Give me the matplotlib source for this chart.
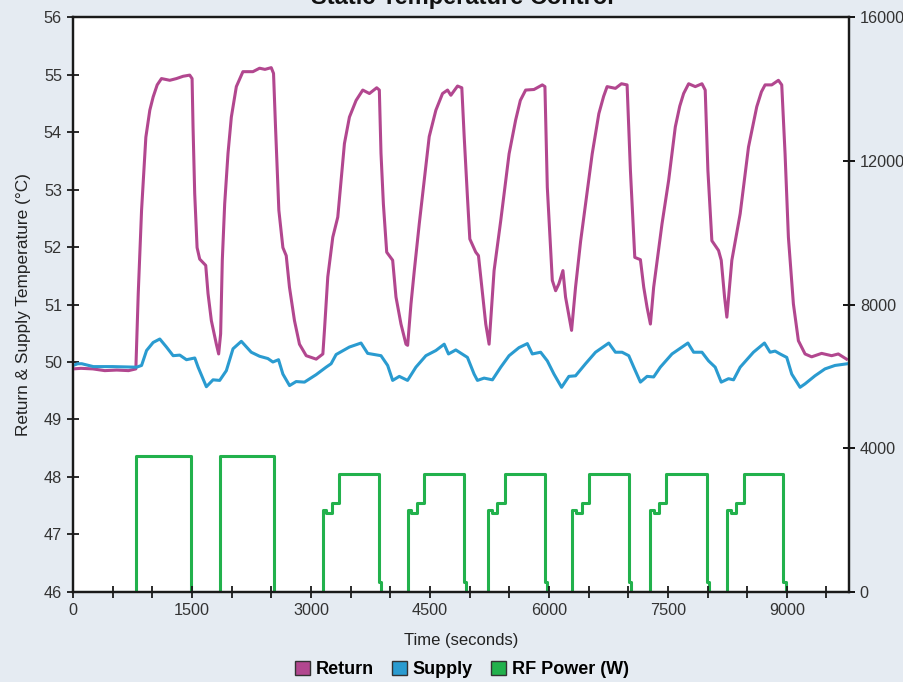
import numpy as np
import matplotlib
matplotlib.use("Agg")
import matplotlib.pyplot as plt
from matplotlib.patches import Patch

plt.rcParams['font.family'] = ['Liberation Sans', 'DejaVu Sans']

# Return temperature (deg C) vs time (s)
ret_t = [0, 100, 250, 400, 550, 700, 792, 822, 864, 918, 968, 1010, 1061, 1115, 1220, 1304, 1388,
         1471, 1501, 1513, 1534, 1564, 1597, 1673, 1702, 1744, 1807, 1836, 1861, 1882, 1912, 1954,
         1996, 2059, 2142, 2268, 2352, 2420, 2499, 2528, 2553, 2595, 2646, 2688, 2729, 2792, 2855,
         2940, 3066, 3150, 3170, 3212, 3275, 3338, 3380, 3422, 3485, 3569, 3653, 3737, 3829, 3862,
         3883, 3913, 3955, 4030, 4072, 4135, 4198, 4219, 4261, 4303, 4366, 4428, 4491, 4575, 4659,
         4722, 4764, 4848, 4902, 4932, 4973, 5003, 5078, 5112, 5141, 5204, 5246, 5309, 5393, 5498,
         5581, 5640, 5707, 5812, 5917, 5950, 5980, 6043, 6085, 6126, 6177, 6210, 6286, 6336, 6400,
         6462, 6546, 6630, 6690, 6734, 6839, 6915, 6986, 7028, 7083, 7154, 7196, 7238, 7280, 7321,
         7426, 7510, 7594, 7650, 7699, 7762, 7846, 7930, 7971, 8005, 8055, 8139, 8173, 8215, 8244,
         8307, 8412, 8517, 8621, 8680, 8726, 8810, 8894, 8936, 8978, 9020, 9083, 9146, 9230, 9313,
         9439, 9565, 9649, 9753]
ret_temp = [49.88, 49.89, 49.88, 49.85, 49.86, 49.85, 49.88, 51.19, 52.64, 53.91, 54.38, 54.61, 54.82,
            54.93, 54.90, 54.93, 54.97, 54.99, 54.93, 54.09, 52.93, 51.99, 51.79, 51.68, 51.19, 50.72,
            50.31, 50.14, 50.49, 51.77, 52.75, 53.63, 54.26, 54.79, 55.05, 55.05, 55.11, 55.09, 55.12,
            55.02, 54.09, 52.64, 51.99, 51.85, 51.30, 50.72, 50.31, 50.11, 50.05, 50.14, 50.55, 51.48,
            52.17, 52.52, 53.16, 53.80, 54.26, 54.55, 54.73, 54.67, 54.77, 54.73, 53.63, 52.75, 51.91,
            51.77, 51.13, 50.66, 50.31, 50.29, 51.01, 51.59, 52.41, 53.16, 53.92, 54.38, 54.67, 54.73,
            54.64, 54.80, 54.77, 53.92, 52.87, 52.14, 51.91, 51.85, 51.48, 50.66, 50.31, 51.59, 52.46,
            53.62, 54.21, 54.55, 54.73, 54.74, 54.82, 54.79, 53.04, 51.42, 51.24, 51.36, 51.59, 51.13,
            50.55, 51.30, 52.10, 52.75, 53.62, 54.32, 54.62, 54.79, 54.76, 54.84, 54.82, 53.33, 51.82,
            51.78, 51.30, 50.95, 50.66, 51.30, 52.40, 53.16, 54.09, 54.45, 54.67, 54.84, 54.79, 54.84,
            54.73, 53.33, 52.11, 51.94, 51.77, 51.13, 50.78, 51.77, 52.58, 53.74, 54.44, 54.70, 54.82,
            54.82, 54.90, 54.82, 53.62, 52.17, 51.01, 50.37, 50.14, 50.09, 50.15, 50.11, 50.14, 50.05]

# Supply temperature (deg C) vs time (s)
sup_t = [0, 60, 110, 256, 500, 801, 864, 927, 1010, 1094, 1178, 1262, 1346, 1430, 1535, 1577, 1681,
         1765, 1849, 1933, 2017, 2122, 2247, 2352, 2457, 2520, 2591, 2646, 2730, 2813, 2918, 3065,
         3191, 3254, 3317, 3484, 3631, 3715, 3883, 3967, 4030, 4114, 4218, 4323, 4449, 4575, 4680,
         4734, 4826, 4973, 5057, 5099, 5183, 5288, 5393, 5498, 5623, 5728, 5791, 5896, 5980, 6064,
         6160, 6252, 6336, 6462, 6588, 6755, 6839, 6923, 7007, 7070, 7154, 7238, 7321, 7405, 7552,
         7753, 7825, 7930, 8013, 8097, 8173, 8265, 8328, 8412, 8579, 8718, 8789, 8852, 8915, 8999,
         9062, 9167, 9230, 9355, 9481, 9607, 9766]
sup_temp = [49.94, 49.97, 49.97, 49.92, 49.92, 49.91, 49.94, 50.20, 50.34, 50.40, 50.26, 50.11, 50.12,
            50.04, 50.07, 49.91, 49.57, 49.69, 49.68, 49.85, 50.23, 50.36, 50.17, 50.10, 50.06, 50.00,
            50.04, 49.79, 49.59, 49.66, 49.65, 49.78, 49.91, 49.97, 50.13, 50.26, 50.33, 50.15, 50.11,
            49.94, 49.68, 49.75, 49.68, 49.91, 50.11, 50.20, 50.31, 50.14, 50.21, 50.08, 49.79, 49.68,
            49.72, 49.69, 49.91, 50.11, 50.25, 50.32, 50.14, 50.17, 50.02, 49.79, 49.56, 49.75, 49.76,
            49.97, 50.17, 50.33, 50.17, 50.17, 50.11, 49.91, 49.65, 49.75, 49.74, 49.91, 50.14, 50.33,
            50.17, 50.17, 50.02, 49.91, 49.65, 49.71, 49.69, 49.91, 50.17, 50.33, 50.17, 50.19, 50.14,
            50.08, 49.79, 49.56, 49.62, 49.76, 49.88, 49.94, 49.97]

# RF power (W), step changes
rf_t = [0, 793, 1484, 1849, 2533, 3149, 3191, 3266, 3359, 3854, 3883, 4219, 4261, 4333, 4429, 4932,
        4953, 5238, 5288, 5351, 5447, 5950, 5980, 6294, 6345, 6412, 6504, 7007, 7036, 7280, 7321,
        7384, 7481, 7992, 8013, 8252, 8298, 8361, 8454, 8957, 8986, 9780]
rf_w = [0, 3790, 0, 3790, 0, 2290, 2190, 2490, 3290, 290, 0, 2290, 2190, 2490, 3290, 290, 0,
        2290, 2190, 2490, 3290, 290, 0, 2290, 2190, 2490, 3290, 290, 0, 2290, 2190, 2490, 3290,
        290, 0, 2290, 2190, 2490, 3290, 290, 0, 0]

c_ret = '#B2478F'
c_sup = '#2A9BD0'
c_rf = '#22B14C'

fig = plt.figure(figsize=(9.04, 6.82), dpi=100, facecolor='#e5ebf2')
ax = fig.add_axes([0.0808, 0.132, 0.858, 0.843])
ax2 = ax.twinx()

ax2.plot(rf_t, rf_w, drawstyle='steps-post', color=c_rf, lw=2.2)
ax.plot(ret_t, ret_temp, color=c_ret, lw=2.2)
ax.plot(sup_t, sup_temp, color=c_sup, lw=2.2)
ax.set_zorder(ax2.get_zorder() + 1)
ax.patch.set_visible(False)
ax2.patch.set_facecolor('white')
ax2.patch.set_visible(True)

ax.set_xlim(0, 9780)
ax.set_ylim(46, 56)
ax2.set_ylim(0, 16000)
ax.set_xticks(np.arange(0, 9780, 500), minor=True)
ax.set_xticks([0, 1500, 3000, 4500, 6000, 7500, 9000])
ax.set_yticks(range(46, 57))
ax2.set_yticks([0, 4000, 8000, 12000, 16000])

for a in (ax, ax2):
    for s in a.spines.values():
        s.set_linewidth(1.6)
        s.set_color('#1a1a1a')
ax.tick_params(axis='both', which='both', direction='inout', length=9, width=1.3,
               labelsize=11.7, colors='#1a1a1a', labelcolor='#333333')
ax.tick_params(axis='x', which='minor', length=9)
ax2.tick_params(axis='y', direction='inout', length=9, width=1.3, labelsize=11.7,
                labelcolor='#333333')

ax.set_xlabel('Time (seconds)', fontsize=12, color='#222222', labelpad=11)
ax.set_ylabel('Return & Supply Temperature (°C)', fontsize=12.4, color='#222222', labelpad=9)

fig.text(0.511, 0.994, 'Static Temperature Control', ha='center', va='baseline',
         fontsize=17, fontweight='bold', color='#111111')

handles = [Patch(facecolor=c_ret, edgecolor='#333333', label='Return'),
           Patch(facecolor=c_sup, edgecolor='#333333', label='Supply'),
           Patch(facecolor=c_rf, edgecolor='#333333', label='RF Power (W)')]
fig.legend(handles=handles, loc='center', bbox_to_anchor=(0.511, 0.018), ncol=3, frameon=False,
           prop={'weight': 'bold', 'size': 13}, handlelength=0.85, handleheight=0.85,
           handletextpad=0.3, columnspacing=1.0)

fig.savefig('out.png', dpi=100, facecolor=fig.get_facecolor())
